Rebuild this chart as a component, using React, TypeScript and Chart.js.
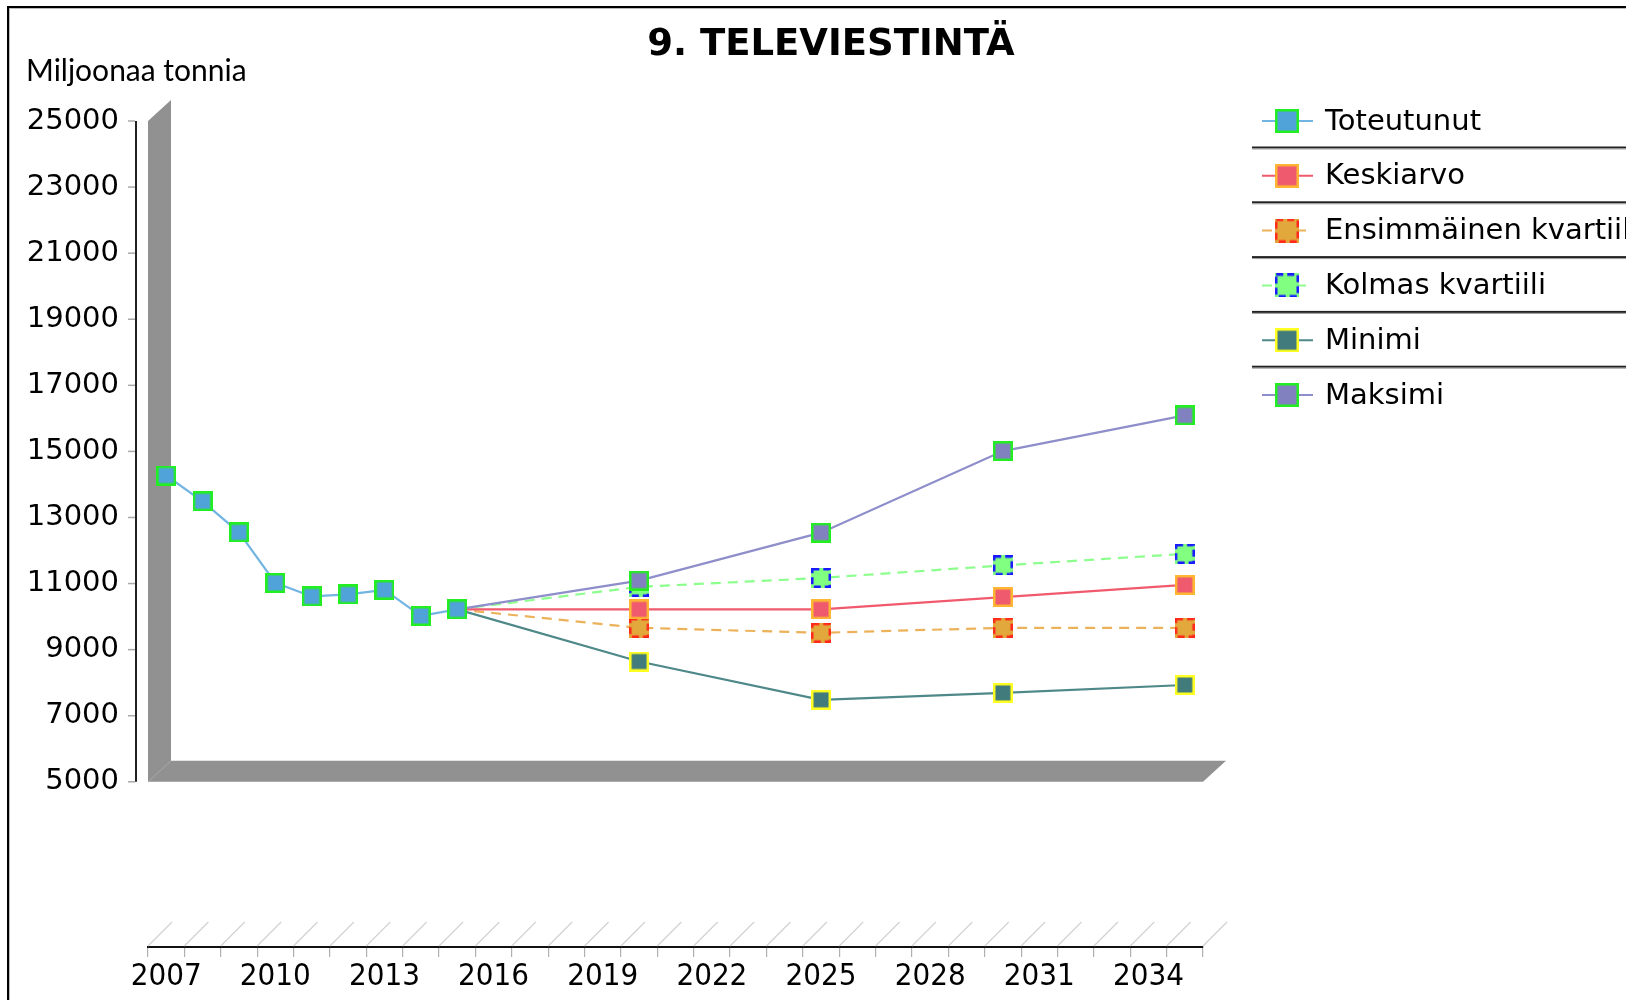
import React, { useEffect, useRef } from 'react';
import { Chart, registerables } from 'chart.js';

Chart.register(...registerables);

// ---------- data ----------
const categories = [
  '2007', '2008', '2009', '2010', '2011', '2012', '2013', '2014', '2015', '2016',
  '2017', '2018', '2019', '2020', '2021', '2022', '2023', '2024', '2025', '2026',
  '2027', '2028', '2029', '2030', '2031', '2032', '2033', '2034', '2035',
];
const xLabelStep = 3;

const historyYears = ['2007', '2008', '2009', '2010', '2011', '2012', '2013', '2014', '2015'];
const toteutunut = [14270, 13490, 12550, 11020, 10610, 10670, 10810, 10020, 10220];

const forecastYears = ['2015', '2020', '2025', '2030', '2035'];
const keskiarvo = [10220, 10220, 10220, 10590, 10960];
const ensimmainenKvartiili = [10220, 9660, 9510, 9660, 9660];
const kolmasKvartiili = [10220, 10900, 11170, 11550, 11900];
const minimi = [10220, 8640, 7480, 7690, 7930];
const maksimi = [10220, 11090, 12540, 15010, 16090];

const yTickValues = [5000, 7000, 9000, 11000, 13000, 15000, 17000, 19000, 21000, 23000, 25000];

const seriesNames = [
  'Toteutunut',
  'Keskiarvo',
  'Ensimmäinen kvartiili',
  'Kolmas kvartiili',
  'Minimi',
  'Maksimi',
];

const TITLE = '9. TELEVIESTINTÄ';
const Y_TITLE = 'Miljoonaa tonnia';

// ---------- styles ----------
const lineColors = ['#72b4e2', '#f05a6c', '#ecb25a', '#8cff8c', '#4e8888', '#8e8ecb'];
const fillColors = ['#4fa3d9', '#f05a6e', '#e3a83c', '#80ff80', '#417b7b', '#8181bf'];
const markerBorders = ['#22ee22', '#ffb733', '#ff2a1a', '#1a1aff', '#ffff22', '#22ee22'];
const dashedSeries = [false, false, true, true, false, false];
const drawOrder = [0, 2, 5, 4, 3, 1];

const TICK_FONT = '"DejaVu Sans", sans-serif';
const XTICK_FONT = '"DejaVu Sans Condensed", "DejaVu Sans", sans-serif';

function makeMarker(fill: string, border: string, dashed: boolean, size: number) {
  const c = document.createElement('canvas');
  c.width = size;
  c.height = size;
  const g = c.getContext('2d')!;
  g.fillStyle = fill;
  g.fillRect(0, 0, size, size);
  g.strokeStyle = border;
  g.lineWidth = 2.5;
  if (dashed) g.setLineDash([7, 4]);
  g.strokeRect(1.25, 1.25, size - 2.5, size - 2.5);
  return c;
}

export default function App() {
  const ref = useRef<HTMLCanvasElement>(null);

  useEffect(() => {
    if (!ref.current) return;
    const plotMarkers = fillColors.map((f, i) => makeMarker(f, markerBorders[i], dashedSeries[i], 20));
    const legendMarkers = fillColors.map((f, i) => makeMarker(f, markerBorders[i], dashedSeries[i], 24));

    const forecastSets = [keskiarvo, ensimmainenKvartiili, kolmasKvartiili, minimi, maksimi];

    const datasets: any[] = [
      {
        label: seriesNames[0],
        data: historyYears.map((x, i) => ({ x, y: toteutunut[i] })),
      },
      ...forecastSets.map((vals, k) => ({
        label: seriesNames[k + 1],
        data: forecastYears.map((x, i) => ({ x, y: vals[i] })),
      })),
    ].map((ds, i) => ({
      ...ds,
      borderColor: lineColors[i],
      backgroundColor: fillColors[i],
      borderWidth: 2.2,
      borderDash: dashedSeries[i] ? [10, 7] : [],
      pointStyle: plotMarkers[i],
      pointRadius: i === 0 ? 10 : (c: any) => (c.dataIndex === 0 ? 0 : 10),
      tension: 0,
      order: drawOrder[i],
    }));

    const decor = {
      id: 'decor',
      beforeDraw(chart: any) {
        const ctx = chart.ctx;
        ctx.save();
        ctx.fillStyle = '#fff';
        ctx.fillRect(0, 0, chart.width, chart.height);
        ctx.fillStyle = '#000';
        ctx.fillRect(7, 6, 2, chart.height);
        ctx.fillRect(7, 6, chart.width, 2);
        ctx.fillStyle = '#bbb';
        ctx.fillRect(9, 8, 1, chart.height);
        ctx.fillRect(9, 8, chart.width, 1);
        ctx.restore();
      },
      beforeDatasetsDraw(chart: any) {
        const { ctx, chartArea, scales } = chart;
        const xs = scales.x;
        const ys = scales.y;
        const L = chartArea.left;
        const R = chartArea.right;
        const B = chartArea.bottom;
        const yTop = ys.getPixelForValue(yTickValues[yTickValues.length - 1]);
        const yBase = ys.getPixelForValue(yTickValues[0]);
        const dx = 23;
        const dy = 21;
        ctx.save();
        // 3D walls
        ctx.fillStyle = '#919191';
        ctx.beginPath();
        ctx.moveTo(L, yTop);
        ctx.lineTo(L + dx, yTop - dy);
        ctx.lineTo(L + dx, yBase - dy);
        ctx.lineTo(R + dx, yBase - dy);
        ctx.lineTo(R, yBase);
        ctx.lineTo(L, yBase);
        ctx.closePath();
        ctx.fill();
        ctx.strokeStyle = '#a8a8a8';
        ctx.lineWidth = 1;
        ctx.beginPath();
        ctx.moveTo(L, yBase);
        ctx.lineTo(L + dx, yBase - dy);
        ctx.stroke();
        // floor hatching at the category axis
        const n = xs.getLabels().length;
        const band = (R - L) / n;
        ctx.strokeStyle = '#d2d2d2';
        ctx.lineWidth = 1.2;
        for (let i = 0; i <= n; i++) {
          const bx = L + i * band;
          ctx.beginPath();
          ctx.moveTo(bx, B - 1);
          ctx.lineTo(bx + 24, B - 25);
          ctx.stroke();
        }
        // value axis line and ticks
        const ax = L - 12;
        ctx.strokeStyle = '#222';
        ctx.lineWidth = 2;
        ctx.beginPath();
        ctx.moveTo(ax, yTop);
        ctx.lineTo(ax, yBase);
        ctx.stroke();
        ctx.strokeStyle = '#aaa';
        ctx.lineWidth = 1.5;
        yTickValues.forEach((v) => {
          const py = ys.getPixelForValue(v);
          ctx.beginPath();
          ctx.moveTo(ax - 8, py);
          ctx.lineTo(ax - 1, py);
          ctx.stroke();
        });
        ctx.restore();
      },
      afterDraw(chart: any) {
        const ctx = chart.ctx;
        ctx.save();
        // title
        ctx.fillStyle = '#000';
        ctx.textAlign = 'center';
        ctx.textBaseline = 'alphabetic';
        ctx.font = 'bold 37px "DejaVu Sans", sans-serif';
        ctx.fillText(TITLE, 831, 55);
        // axis caption
        ctx.textAlign = 'left';
        ctx.textBaseline = 'middle';
        ctx.font = '30px Lato, "Open Sans", sans-serif';
        ctx.fillText(Y_TITLE, 26, 71);
        // legend
        const x0 = 1252;
        const y0 = 121;
        const step = 54.8;
        chart.data.datasets.forEach((ds: any, i: number) => {
          const cy = y0 + i * step;
          ctx.strokeStyle = ds.borderColor;
          ctx.lineWidth = 2;
          ctx.setLineDash(dashedSeries[i] ? [10, 7] : []);
          ctx.beginPath();
          ctx.moveTo(x0 + 10, cy);
          ctx.lineTo(x0 + 61, cy);
          ctx.stroke();
          ctx.setLineDash([]);
          const m = legendMarkers[i];
          ctx.drawImage(m, x0 + 35 - m.width / 2, cy - m.height / 2);
          ctx.fillStyle = '#000';
          ctx.font = '29px "DejaVu Sans", sans-serif';
          ctx.textAlign = 'left';
          ctx.textBaseline = 'middle';
          ctx.fillText(ds.label, x0 + 73, cy + 1);
          if (i < chart.data.datasets.length - 1) {
            const sy = cy + 26.5;
            ctx.fillStyle = '#222';
            ctx.fillRect(x0, sy - 1, chart.width - x0, 2);
            ctx.fillStyle = '#999';
            ctx.fillRect(x0, sy + 1, chart.width - x0, 1);
          }
        });
        ctx.restore();
      },
    };

    const chart = new Chart(ref.current, {
      type: 'line',
      data: { labels: categories, datasets },
      options: {
        responsive: false,
        animation: false,
        devicePixelRatio: 1,
        layout: { padding: { top: 121, right: 423, left: 0, bottom: 0 } },
        plugins: {
          legend: { display: false },
          title: { display: false },
          tooltip: { enabled: false },
        },
        scales: {
          x: {
            type: 'category',
            offset: true,
            grid: {
              display: true,
              drawOnChartArea: false,
              drawTicks: true,
              tickLength: 10,
              offset: true,
              color: '#b0b0b0',
              lineWidth: 1.2,
            },
            border: { display: true, color: '#111', width: 2 },
            ticks: {
              autoSkip: false,
              maxRotation: 0,
              minRotation: 0,
              padding: 1,
              color: '#000',
              font: { family: XTICK_FONT, size: 31 },
              callback: (_v: any, i: number) => (i % xLabelStep === 0 ? categories[i] : ''),
            },
            afterFit: (s: any) => {
              s.height = 53;
            },
          },
          y: {
            min: 0,
            max: 25000,
            afterBuildTicks: (s: any) => {
              s.ticks = yTickValues.map((v) => ({ value: v }));
            },
            grid: { display: false, drawTicks: false },
            border: { display: false },
            ticks: {
              padding: 29,
              color: '#000',
              font: { family: TICK_FONT, size: 29 },
              callback: (v: any) => String(v),
            },
            afterFit: (s: any) => {
              s.width = 148;
            },
          },
        },
      } as any,
      plugins: [decor],
    });
    return () => chart.destroy();
  }, []);

  return (
    <div style={{ position: 'fixed', left: 0, top: 0, width: 1626, height: 1000, background: '#fff' }}>
      <canvas ref={ref} width={1626} height={1000} style={{ display: 'block', width: 1626, height: 1000 }} />
    </div>
  );
}
